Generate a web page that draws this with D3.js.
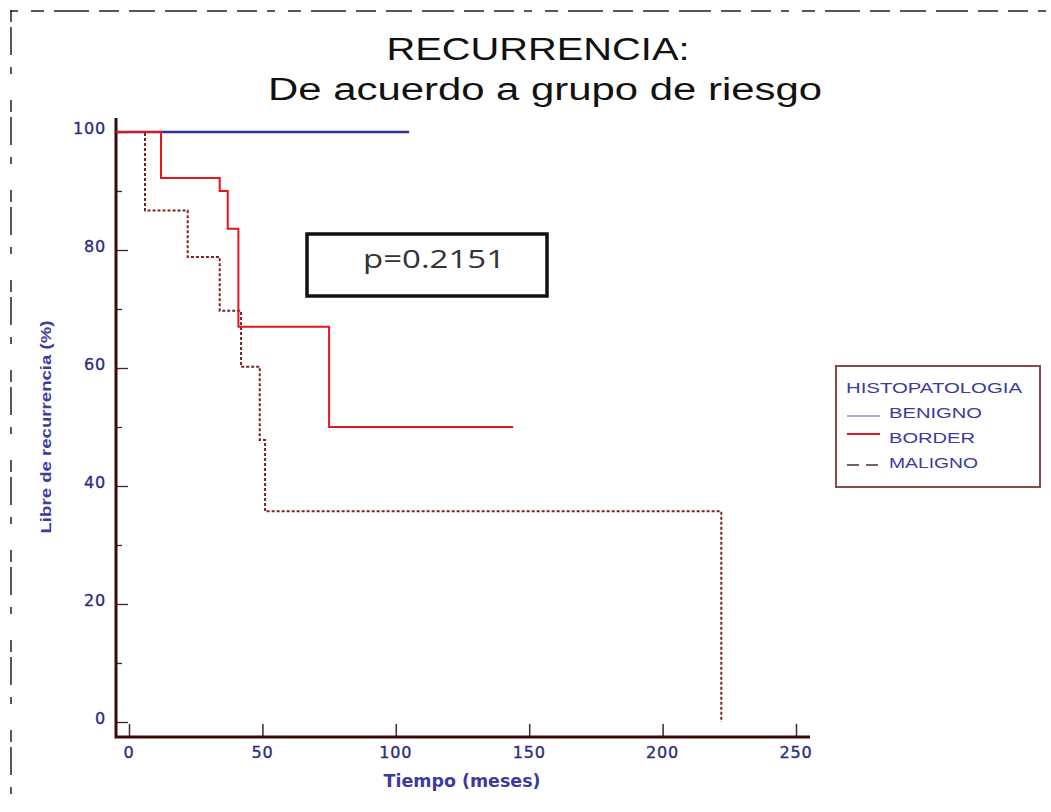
<!DOCTYPE html>
<html>
<head>
<meta charset="utf-8">
<script src="https://cdn.jsdelivr.net/npm/d3@7"></script>
<style>
  body { margin: 0; background: #fff; }
</style>
</head>
<body>
<div id="graphic"></div>
<script>
// Kaplan-Meier steps: [meses, libre de recurrencia %]
const benignoT = [0, 105];
const benignoS = [100, 100];
const borderT = [0, 12, 34, 37, 41, 75, 144];
const borderS = [100, 92.2, 90, 83.6, 67, 50, 50];
const malignoT = [0, 6, 22, 34, 42, 49, 51, 222];
const malignoS = [100, 86.7, 78.8, 69.7, 60.2, 47.8, 35.7, 0];

const groups = ['BENIGNO', 'BORDER', 'MALIGNO'];
const xTicks = [0, 50, 100, 150, 200, 250];
const yTicks = [0, 20, 40, 60, 80, 100];

const width = 1051;
const height = 812;

const blue = '#2f2f9e';
const red = '#e3141a';
const dark = '#7a2222';
const labelBlue = '#3b3ba0';

const x = d3.scaleLinear().domain([0, 250]).range([129, 796]);
const y = d3.scaleLinear().domain([0, 100]).range([722, 132]);
const axisX = 116, axisY = 737;

let svg = d3.select("#graphic")
  .append("svg")
  .attr("width", width)
  .attr("height", height)
  .attr("font-family", "'Liberation Sans', Arial, sans-serif");

// dashed frame round the figure
svg.append("line")
  .attr("x1", 10).attr("y1", 11).attr("x2", width).attr("y2", 11)
  .attr("stroke", "#222").attr("stroke-width", 1.5)
  .attr("stroke-dasharray", "8 13 13 10 35 10 20 10 26 10 32 10 20 10 20 10");
svg.append("line")
  .attr("x1", 11).attr("y1", 10).attr("x2", 11).attr("y2", height)
  .attr("stroke", "#222").attr("stroke-width", 1.5)
  .attr("stroke-dasharray", "12 5 28 12 7 26");

// title
let title = svg.append("g")
  .attr("text-anchor", "middle")
  .attr("fill", "#111")
  .attr("font-size", 31);
title.append("text")
  .attr("x", 538).attr("y", 60)
  .attr("textLength", 303).attr("lengthAdjust", "spacingAndGlyphs")
  .text("RECURRENCIA:");
title.append("text")
  .attr("x", 545).attr("y", 100)
  .attr("textLength", 554).attr("lengthAdjust", "spacingAndGlyphs")
  .text("De acuerdo a grupo de riesgo");

// axes
let yAxis = g => g
  .attr("transform", `translate(${axisX},0)`)
  .call(d3.axisRight(y).tickValues(d3.range(0, 101, 10)).tickFormat("")
    .tickSize(0))
  .call(g => g.select(".domain").remove())
  .call(g => g.selectAll(".tick line")
    .attr("x2", d => d % 20 == 0 ? 12 : 6)
    .attr("stroke", "#4a2020").attr("stroke-width", 1.3));

let xAxis = g => g
  .attr("transform", `translate(0,${axisY})`)
  .call(d3.axisTop(x).tickValues(xTicks).tickFormat("").tickSize(13))
  .call(g => g.select(".domain").remove())
  .call(g => g.selectAll(".tick line")
    .attr("stroke", "#3a2a2a").attr("stroke-width", 1.5));

svg.append("g").call(yAxis);
svg.append("g").call(xAxis);

svg.append("path")
  .attr("fill", "none")
  .attr("stroke", "#3a0a0a")
  .attr("stroke-width", 3)
  .attr("d", `M${axisX},118V${axisY}H810`);

// tick labels
svg.append("g")
  .attr("font-family", "'DejaVu Sans', Verdana, sans-serif")
  .attr("font-size", 16)
  .attr("fill", "#2c2c84")
  .attr("stroke", "#2c2c84")
  .attr("stroke-width", 0.35)
  .attr("text-anchor", "end")
  .selectAll("text")
  .data(yTicks)
  .join("text")
    .attr("x", 106)
    .attr("y", d => y(d) + 2)
    .attr("letter-spacing", 0.8)
    .text(d => d);

svg.append("g")
  .attr("font-family", "'DejaVu Sans', Verdana, sans-serif")
  .attr("font-size", 16)
  .attr("fill", "#2c2c84")
  .attr("stroke", "#2c2c84")
  .attr("stroke-width", 0.35)
  .attr("text-anchor", "middle")
  .selectAll("text")
  .data(xTicks)
  .join("text")
    .attr("x", d => x(d))
    .attr("y", 758)
    .attr("letter-spacing", 0.8)
    .text(d => d);

// axis titles
svg.append("text")
  .attr("x", 462).attr("y", 787)
  .attr("text-anchor", "middle")
  .attr("font-family", "'DejaVu Sans', Verdana, sans-serif")
  .attr("font-size", 18)
  .attr("font-weight", "bold")
  .attr("fill", labelBlue)
  .attr("textLength", 157).attr("lengthAdjust", "spacingAndGlyphs")
  .text("Tiempo (meses)");

svg.append("text")
  .attr("transform", "translate(51,427) rotate(-90)")
  .attr("text-anchor", "middle")
  .attr("font-size", 15)
  .attr("font-weight", "bold")
  .attr("fill", labelBlue)
  .attr("textLength", 213).attr("lengthAdjust", "spacingAndGlyphs")
  .text("Libre de recurrencia (%)");

// survival curves
const stepLine = d3.line()
  .x(d => d[0])
  .y(d => d[1])
  .curve(d3.curveStepAfter);

function steps(times, surv) {
  let pts = times.map((t, i) => [x(t), y(surv[i])]);
  pts[0][0] = axisX;  // first plateau starts on the axis line
  return pts;
}

const curves = [
  {name: 'MALIGNO', pts: steps(malignoT, malignoS), color: dark, w: 2, dash: "3 2"},
  {name: 'BENIGNO', pts: steps(benignoT, benignoS), color: blue, w: 2.5, dash: null},
  {name: 'BORDER', pts: steps(borderT, borderS), color: red, w: 2, dash: null}
];

svg.append("g")
  .attr("fill", "none")
  .selectAll("path")
  .data(curves)
  .join("path")
    .attr("stroke", d => d.color)
    .attr("stroke-width", d => d.w)
    .attr("stroke-dasharray", d => d.dash)
    .attr("d", d => stepLine(d.pts));

// p value box
svg.append("rect")
  .attr("x", 307).attr("y", 234)
  .attr("width", 240).attr("height", 62)
  .attr("fill", "#fff")
  .attr("stroke", "#111")
  .attr("stroke-width", 3.5);
svg.append("text")
  .attr("x", 434).attr("y", 268)
  .attr("text-anchor", "middle")
  .attr("font-family", "'Open Sans', 'Liberation Sans', sans-serif")
  .attr("font-size", 26)
  .attr("fill", "#333")
  .attr("textLength", 142).attr("lengthAdjust", "spacingAndGlyphs")
  .text("p=0.2151");

// legend
let legend = svg.append("g")
  .attr("font-size", 15)
  .attr("fill", labelBlue);

legend.append("rect")
  .attr("x", 836).attr("y", 366)
  .attr("width", 204).attr("height", 121)
  .attr("fill", "none")
  .attr("stroke", "#8a4848")
  .attr("stroke-width", 2);

legend.append("text")
  .attr("x", 846).attr("y", 393)
  .attr("textLength", 176).attr("lengthAdjust", "spacingAndGlyphs")
  .text("HISTOPATOLOGIA");

const legendLen = {BENIGNO: 93, BORDER: 86, MALIGNO: 89};
const legendStyle = {
  BENIGNO: {color: '#5a5ab0', w: 1.2, dash: null, ly: 416},
  BORDER: {color: red, w: 2, dash: null, ly: 434},
  MALIGNO: {color: '#4a2a3a', w: 1.5, dash: "12 7", ly: 465}
};

let rows = legend.selectAll("g.row")
  .data(groups)
  .join("g")
    .attr("class", "row");

rows.append("line")
  .attr("x1", 847).attr("x2", 880)
  .attr("y1", d => legendStyle[d].ly)
  .attr("y2", d => legendStyle[d].ly)
  .attr("stroke", d => legendStyle[d].color)
  .attr("stroke-width", d => legendStyle[d].w)
  .attr("stroke-dasharray", d => legendStyle[d].dash);

rows.append("text")
  .attr("x", 889)
  .attr("y", (d, i) => 418 + i * 25)
  .attr("textLength", d => legendLen[d])
  .attr("lengthAdjust", "spacingAndGlyphs")
  .text(d => d);
</script>
</body>
</html>
